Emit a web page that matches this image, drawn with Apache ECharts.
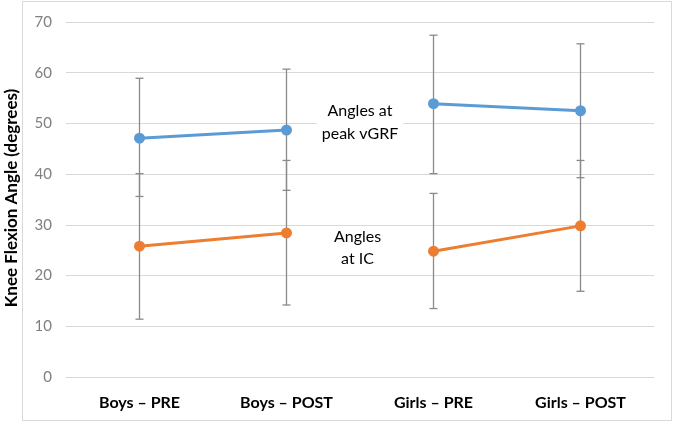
<!DOCTYPE html>
<html>
<head>
<meta charset="utf-8">
<script src="https://cdn.jsdelivr.net/npm/echarts@6/dist/echarts.min.js"></script>
<style>html,body{margin:0;padding:0;background:#fff}#c{width:674px;height:423px}</style>
</head>
<body>
<div id="c"></div>
<script>
const categories = ['Boys – PRE', 'Boys – POST', 'Girls – PRE', 'Girls – POST'];
const peakBoys = [47.1, 48.7, null, null];
const peakGirls = [null, null, 53.9, 52.5];
const peakLow = [35.6, 36.8, 40.1, 39.3];
const peakHigh = [58.9, 60.7, 67.4, 65.7];
const icBoys = [25.8, 28.4, null, null];
const icGirls = [null, null, 24.8, 29.8];
const icLow = [11.4, 14.2, 13.5, 16.9];
const icHigh = [40.1, 42.7, 36.2, 42.7];
const yTicks = [0, 10, 20, 30, 40, 50, 60, 70];

const font = 'Lato, "Open Sans", sans-serif';

function errData(low, high) {
  return categories.map((c, i) => [i, low[i], high[i]]);
}
function errRender(params, api) {
  const x = api.value(0);
  const lo = api.coord([x, api.value(1)]);
  const hi = api.coord([x, api.value(2)]);
  const w = 4;
  const st = { stroke: '#8a8a8a', lineWidth: 1.3 };
  return {
    type: 'group',
    children: [
      { type: 'line', shape: { x1: lo[0], y1: lo[1], x2: hi[0], y2: hi[1] }, style: st },
      { type: 'line', shape: { x1: lo[0] - w, y1: lo[1], x2: lo[0] + w, y2: lo[1] }, style: st },
      { type: 'line', shape: { x1: hi[0] - w, y1: hi[1], x2: hi[0] + w, y2: hi[1] }, style: st }
    ]
  };
}
function lineSeries(name, data, color) {
  return {
    type: 'line', name: name, data: data, z: 3, connectNulls: false,
    symbol: 'circle', symbolSize: 11,
    lineStyle: { color: color, width: 3 }, itemStyle: { color: color }
  };
}

const chart = echarts.init(document.getElementById('c'));
chart.setOption({
  backgroundColor: '#fff',
  animation: false,
  grid: { left: 66, right: 20, top: 22, bottom: 46 },
  xAxis: {
    type: 'category',
    data: categories,
    boundaryGap: true,
    axisLine: { show: false },
    axisTick: { show: false },
    axisLabel: { color: '#000', fontWeight: 'bold', fontSize: 16, fontFamily: font, margin: 18 }
  },
  yAxis: {
    type: 'value',
    min: yTicks[0],
    max: yTicks[yTicks.length - 1],
    interval: 10,
    axisLine: { show: false },
    axisTick: { show: false },
    axisLabel: { color: '#7f7f7f', fontSize: 15, fontFamily: font, margin: 14 },
    splitLine: { lineStyle: { color: '#d9d9d9', width: 1 } }
  },
  series: [
    { type: 'custom', name: 'peakErr', data: errData(peakLow, peakHigh), renderItem: errRender, z: 1 },
    { type: 'custom', name: 'icErr', data: errData(icLow, icHigh), renderItem: errRender, z: 1 },
    lineSeries('Angles at peak vGRF (Boys)', peakBoys, '#5b9bd5'),
    lineSeries('Angles at peak vGRF (Girls)', peakGirls, '#5b9bd5'),
    lineSeries('Angles at IC (Boys)', icBoys, '#ed7d31'),
    lineSeries('Angles at IC (Girls)', icGirls, '#ed7d31')
  ],
  graphic: [
    { type: 'rect', shape: { x: 22.5, y: 1.5, width: 649, height: 419 }, style: { fill: null, stroke: '#d9d9d9', lineWidth: 1 }, z: 0, silent: true },
    {
      type: 'text', x: 12, y: 198, rotation: Math.PI / 2, z: 10,
      style: { text: 'Knee Flexion Angle (degrees)', fill: '#000', font: 'bold 17px ' + font, align: 'center', verticalAlign: 'middle' }
    },
    {
      type: 'text', x: 360, y: 122.5, z: 10,
      style: { text: 'Angles at\npeak vGRF', fill: '#000', font: '16px ' + font, align: 'center', verticalAlign: 'middle', lineHeight: 23, backgroundColor: '#fff', padding: [0, 5] }
    },
    {
      type: 'text', x: 357.5, y: 248, z: 10,
      style: { text: 'Angles\nat IC', fill: '#000', font: '16px ' + font, align: 'center', verticalAlign: 'middle', lineHeight: 22, backgroundColor: '#fff', padding: [0, 5] }
    }
  ]
});
</script>
</body>
</html>
